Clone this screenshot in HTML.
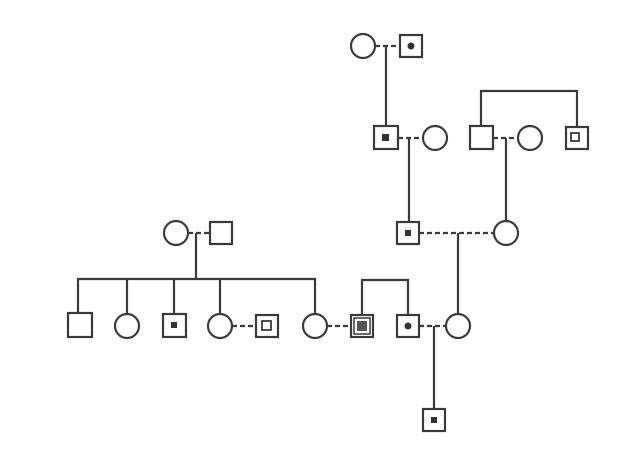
<!DOCTYPE html>
<html><head><style>html,body{margin:0;padding:0;background:#fff}svg{display:block}</style></head>
<body>
<svg width="644" height="452" viewBox="0 0 644 452" xmlns="http://www.w3.org/2000/svg">
<g fill="none" stroke="#3a3a3a" stroke-width="2.2">
<!-- top couple -->
<circle cx="363" cy="46" r="12"/>
<rect x="400" y="35" width="22" height="22"/>
<line x1="375" y1="46" x2="400" y2="46" stroke-dasharray="5,3"/>
<line x1="386" y1="46" x2="386" y2="126"/>
<!-- row 2 -->
<rect x="374" y="126" width="24" height="23"/>
<circle cx="435" cy="138" r="12"/>
<line x1="398" y1="138" x2="423" y2="138" stroke-dasharray="5,3"/>
<line x1="409" y1="138" x2="409" y2="222"/>
<rect x="470" y="126" width="23" height="23"/>
<circle cx="530" cy="138" r="12"/>
<line x1="493" y1="138" x2="518" y2="138" stroke-dasharray="5,3"/>
<line x1="506" y1="138" x2="506" y2="221"/>
<rect x="566" y="127" width="22" height="22"/>
<polyline points="481,126 481,91 577,91 577,127"/>
<!-- row 3 -->
<rect x="397" y="222" width="22" height="22"/>
<circle cx="506" cy="233" r="12"/>
<line x1="419" y1="233" x2="494" y2="233" stroke-dasharray="5,3"/>
<line x1="458" y1="233" x2="458" y2="314"/>
<!-- left couple -->
<circle cx="176" cy="233" r="12"/>
<rect x="210" y="222" width="22" height="22"/>
<line x1="188" y1="233" x2="210" y2="233" stroke-dasharray="5,3"/>
<line x1="196" y1="233" x2="196" y2="279"/>
<polyline points="78,313 78,279 315,279 315,314"/>
<line x1="127" y1="279" x2="127" y2="314"/>
<line x1="174" y1="279" x2="174" y2="314"/>
<line x1="220" y1="279" x2="220" y2="314"/>
<!-- children row -->
<rect x="68" y="313" width="24" height="24"/>
<circle cx="127" cy="326" r="12"/>
<rect x="163" y="314" width="23" height="23"/>
<circle cx="220" cy="326" r="12"/>
<line x1="232" y1="326" x2="256" y2="326" stroke-dasharray="5,3"/>
<rect x="256" y="315" width="22" height="22"/>
<circle cx="315" cy="326" r="12"/>
<line x1="327" y1="326" x2="351" y2="326" stroke-dasharray="5,3"/>
<rect x="351" y="315" width="22" height="22"/>
<rect x="354" y="318" width="16" height="16" stroke-width="1.5"/>
<polyline points="362,315 362,280 408,280 408,315"/>
<rect x="397" y="315" width="22" height="22"/>
<circle cx="458" cy="326" r="12"/>
<line x1="419" y1="326" x2="446" y2="326" stroke-dasharray="5,3"/>
<line x1="434" y1="326" x2="434" y2="409"/>
<rect x="423" y="409" width="22" height="22"/>
<!-- inner small squares -->
<rect x="571" y="133" width="8" height="8" stroke-width="1.8"/>
<rect x="262" y="321" width="9" height="9" stroke-width="1.8"/>
</g>
<g fill="#333">
<circle cx="411" cy="46" r="3.5"/>
<rect x="382" y="134" width="7" height="7"/>
<rect x="405" y="230" width="6" height="6"/>
<rect x="171" y="322" width="6" height="6"/>
<rect x="357" y="321" width="10" height="10" fill="#555"/>
<circle cx="408" cy="326" r="3.5"/>
<rect x="431" y="417" width="6" height="6"/>
</g>
</svg>
</body></html>
